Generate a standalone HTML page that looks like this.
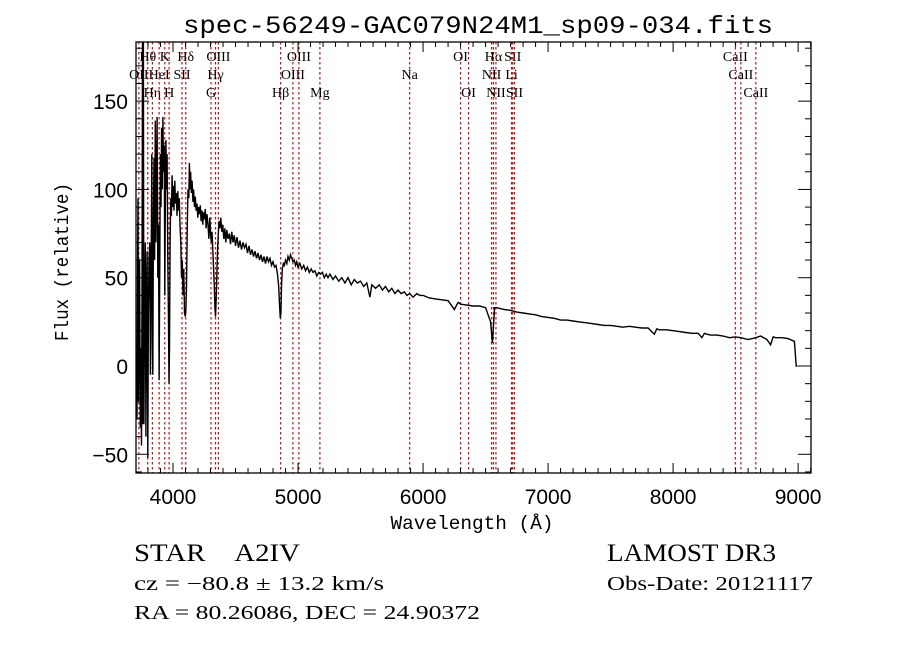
<!DOCTYPE html>
<html><head><meta charset="utf-8">
<style>
html,body{margin:0;padding:0;background:#fff;}
svg{display:block;}
</style></head>
<body>
<svg id="chart" width="900" height="649" viewBox="0 0 900 649" xmlns="http://www.w3.org/2000/svg">
<rect x="0" y="0" width="900" height="649" fill="#fff"/>
<text x="478" y="33" text-anchor="middle" font-family="Liberation Mono, monospace" font-size="25" textLength="590" lengthAdjust="spacingAndGlyphs">spec-56249-GAC079N24M1_sp09-034.fits</text>
<g id="lines"></g>
<g id="spec"></g>
<g id="axes"></g>
<text x="472" y="529" text-anchor="middle" font-family="Liberation Mono, monospace" font-size="19" textLength="163" lengthAdjust="spacingAndGlyphs">Wavelength (Å)</text>
<text transform="translate(68,262) rotate(-90)" text-anchor="middle" font-family="Liberation Mono, monospace" font-size="19" textLength="158" lengthAdjust="spacingAndGlyphs">Flux (relative)</text>
<text x="134" y="561" font-family="Liberation Serif, serif" font-size="25" textLength="166" lengthAdjust="spacingAndGlyphs">STAR&#160;&#160;&#160;&#160;A2IV</text>
<text x="134" y="590" font-family="Liberation Serif, serif" font-size="20" textLength="250" lengthAdjust="spacingAndGlyphs">cz = −80.8 ± 13.2 km/s</text>
<text x="134" y="619" font-family="Liberation Serif, serif" font-size="20" textLength="346" lengthAdjust="spacingAndGlyphs">RA =  80.26086, DEC =  24.90372</text>
<text x="607" y="561" font-family="Liberation Serif, serif" font-size="25" textLength="169" lengthAdjust="spacingAndGlyphs">LAMOST DR3</text>
<text x="607" y="590" font-family="Liberation Serif, serif" font-size="20" textLength="206" lengthAdjust="spacingAndGlyphs">Obs-Date: 20121117</text>
</svg>
<script>
const waves = [3705,3712,3716,3720,3724,3728,3733,3738,3742,3748,3752,3756,3759,3763,3767,3772,3778,3783,3788,3793,3798,3803,3808,3814,3819,3824,3830,3835,3838,3843,3848,3853,3858,3863,3868,3873,3878,3884,3889,3894,3899,3904,3909,3914,3919,3924,3930,3934,3938,3943,3948,3953,3958,3963,3968,3972,3977,3982,3987,3993,3998,4003,4008,4014,4020,4026,4032,4038,4044,4050,4056,4062,4068,4074,4080,4086,4092,4098,4103,4108,4114,4120,4126,4131,4136,4141,4147,4153,4159,4165,4172,4178,4185,4192,4198,4205,4212,4218,4225,4232,4238,4245,4252,4258,4265,4272,4280,4287,4294,4300,4306,4312,4318,4324,4330,4336,4340,4344,4350,4356,4362,4368,4375,4382,4390,4398,4406,4414,4422,4430,4440,4450,4460,4470,4480,4490,4500,4512,4524,4536,4548,4560,4572,4584,4596,4608,4620,4632,4644,4656,4668,4680,4692,4704,4716,4728,4740,4752,4764,4776,4788,4800,4812,4824,4836,4845,4852,4858,4863,4868,4874,4882,4890,4900,4910,4920,4930,4940,4950,4960,4970,4980,4990,5000,5015,5030,5045,5060,5075,5090,5105,5120,5135,5150,5165,5180,5195,5210,5225,5240,5255,5280,5300,5325,5350,5375,5400,5425,5450,5475,5500,5525,5550,5575,5590,5620,5650,5675,5700,5725,5750,5775,5800,5825,5850,5870,5893,5920,5950,5975,6000,6050,6100,6150,6200,6250,6280,6300,6350,6400,6450,6500,6540,6555,6565,6572,6590,6650,6700,6750,6800,6850,6900,6950,7000,7050,7100,7150,7200,7250,7300,7350,7400,7450,7500,7550,7600,7650,7700,7750,7800,7850,7870,7890,7950,8000,8050,8100,8150,8200,8230,8250,8270,8300,8350,8400,8450,8498,8542,8600,8662,8700,8750,8780,8800,8820,8870,8920,8970,8985,8995,9000];
const flux = [0,-30,50,95,-20,20,60,-35,10,-45,40,184,-33,184,-33,30,70,-40,40,65,-52,30,60,70,-5,40,120,10,-5,80,118,60,139,70,100,141,50,80,-8,60,120,90,135,100,141,110,125,40,90,128,100,120,60,30,-10,10,70,95,85,108,90,102,88,105,92,98,85,99,88,95,80,70,50,60,40,55,30,28,32,45,80,100,95,115,100,110,98,105,93,100,90,96,88,92,84,90,86,91,82,88,80,87,83,89,78,86,80,72,84,76,70,76,66,56,45,32,28,35,50,65,75,82,78,84,76,80,72,78,70,77,72,75,69,76,70,74,68,73,67,71,66,70,67,69,64,68,63,66,62,65,61,64,60,63,59,62,58,62,59,61,57,59,56,57,52,45,35,27,30,45,55,58,57,60,58,62,60,63,61,59,60,57,59,56,58,55,57,54,56,53,55,53,54,51,53,52,53,50,52,50,52,49,51,48,50,47,50,46,49,47,48,45,47,39,46,44,46,43,45,42,44,41,43,41,42,40,41,39,41,40,40,38.5,38,37.5,37,32,36,35,34.5,34,34,33,25,13,25,33,33,32,31.5,30.5,30,29.5,29,28,27.5,27,26,26,25.5,25,24.5,24,23.5,23,23,22.5,22,22.5,22,21.5,21.5,18,21,20.5,20.5,20,19.5,19,18.5,18.5,16,18.5,18,17.5,17.5,17,16,16.5,16,15,16,17,15,12,16.5,16,16,15.5,14,0,0];
const lineWaves = [3727,3798,3835,3889,3934,3969,4072,4102,4304,4340,4363,4861,4959,5007,5175,5893,6300,6364,6548,6563,6583,6708,6717,6731,8498,8542,8662];
const lineLabels = ["OII","Hθ","Hη","HeI","K","H","SII","Hδ","G","Hγ","OIII","Hβ","OIII","OIII","Mg","Na","OI","OI","NII","Hα","NII","Li","SII","SII","CaII","CaII","CaII"];
const lineRows = [2,1,3,2,1,3,2,1,3,2,1,3,2,1,3,2,1,3,2,1,3,2,1,3,1,2,3];
const xTicks = [4000,5000,6000,7000,8000,9000];
const yTicks = [-50,0,50,100,150];

const X0=136, X1=811, Y0=42, Y1=473;
const WMIN=3704, WMAX=9103, FMIN=-60.6, FMAX=183.5;
const sx = w => X0 + (w-WMIN)/(WMAX-WMIN)*(X1-X0);
const sy = f => Y1 - (f-FMIN)/(FMAX-FMIN)*(Y1-Y0);
const NS="http://www.w3.org/2000/svg";
function mk(tag, attrs, parent){const e=document.createElementNS(NS,tag);for(const k in attrs)e.setAttribute(k,attrs[k]);parent.appendChild(e);return e;}

const lg=document.getElementById('lines');
const rowY=[0,61,79,97];
lineWaves.forEach((w,i)=>{
  const x=sx(w);
  const l=mk('line',{x1:x,x2:x,y1:Y0,y2:Y1,stroke:'#b01818','stroke-width':1.2,'stroke-dasharray':'2.5,2.5'},lg);
  
  
  const t=mk('text',{x:x,y:rowY[lineRows[i]],'text-anchor':'middle','font-family':'Liberation Serif, serif','font-size':14,fill:'#000'},lg);
  t.textContent=lineLabels[i];
  
  
});

const sg=document.getElementById('spec');
const clip=mk('clipPath',{id:'pc'},sg);
mk('rect',{x:X0,y:Y0,width:X1-X0,height:Y1-Y0},clip);
const pts=waves.map((w,i)=>sx(w).toFixed(1)+','+sy(Math.max(FMIN,Math.min(FMAX,flux[i]))).toFixed(1)).join(' ');
const pl=mk('polyline',{points:pts,fill:'none',stroke:'#000','stroke-width':1.4,'clip-path':'url(#pc)','stroke-linejoin':'miter'},sg);



const ag=document.getElementById('axes');
const fr=mk('rect',{x:X0,y:Y0,width:X1-X0,height:Y1-Y0,fill:'none',stroke:'#000','stroke-width':1.3},ag);


for(let w=3800;w<=9100;w+=100){
  const x=sx(w); const major=(w%1000===0); const L=major?10:5;
  mk('line',{x1:x,x2:x,y1:Y1,y2:Y1-L,stroke:'#000','stroke-width':1},ag);
  mk('line',{x1:x,x2:x,y1:Y0,y2:Y0+L,stroke:'#000','stroke-width':1},ag);
}
for(let f=-60;f<=180;f+=10){
  const y=sy(f); const major=(f%50===0); const L=major?13:6;
  mk('line',{x1:X0,x2:X0+L,y1:y,y2:y,stroke:'#000','stroke-width':1},ag);
  mk('line',{x1:X1,x2:X1-L,y1:y,y2:y,stroke:'#000','stroke-width':1},ag);
}
xTicks.forEach(v=>{
  const t=mk('text',{x:sx(v),y:504,'text-anchor':'middle','font-family':'Liberation Sans, sans-serif','font-size':21},ag);
  t.textContent=v;
  
  
});
yTicks.forEach(v=>{
  const t=mk('text',{x:128,y:sy(v)+8,'text-anchor':'end','font-family':'Liberation Sans, sans-serif','font-size':21},ag);
  t.textContent=v<0?'−'+Math.abs(v):v;
  
  
});
</script>
</body></html>
